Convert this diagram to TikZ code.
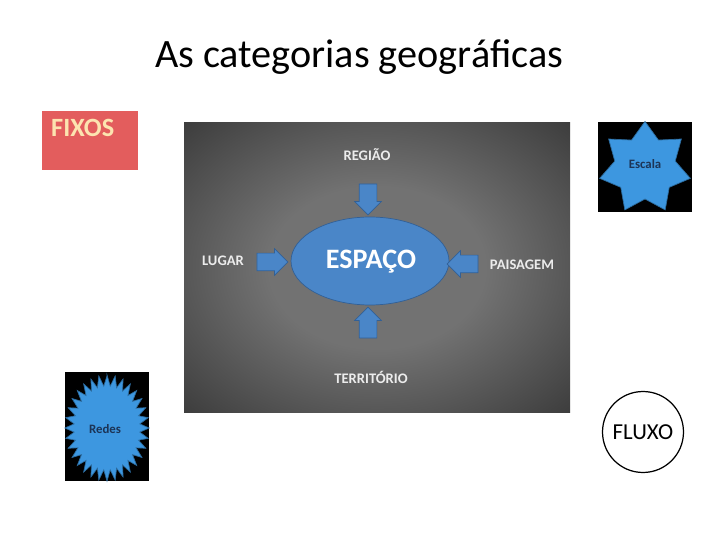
\documentclass[tikz,border=0pt]{standalone}
\usepackage{fontspec}
\setmainfont{Carlito}
\usetikzlibrary{shapes.geometric,shapes.arrows}
\definecolor{espacoblue}{RGB}{74,134,200}
\definecolor{espacoedge}{RGB}{50,96,150}
\definecolor{starblue}{RGB}{61,151,224}
\definecolor{starnavy}{RGB}{28,52,86}
\definecolor{fixosred}{RGB}{227,93,93}
\definecolor{fixostext}{RGB}{252,228,176}
\definecolor{labelgray}{RGB}{236,236,236}
\definecolor{panelmid}{RGB}{114,114,114}
\definecolor{paneledge}{RGB}{30,30,30}
\definecolor{panelcorner}{RGB}{8,8,8}
\pgfdeclareradialshading{panelglow}{\pgfpoint{0bp}{0bp}}{color(0bp)=(panelmid); color(14bp)=(panelmid); color(48bp)=(paneledge); color(70bp)=(panelcorner)}
\tikzset{
	catarrow/.style={single arrow, draw=espacoedge, fill=espacoblue, inner xsep=0pt, inner ysep=0.17cm, minimum height=0.62cm, single arrow head extend=0.09cm, single arrow head indent=0pt},
	catlabel/.style={text=labelgray, font=\bfseries\fontsize{8.3}{10}\selectfont},
	starlabel/.style={text=starnavy, font=\bfseries\fontsize{7.3}{8}\selectfont}
}
\begin{document}
\begin{tikzpicture}[x=0.02cm,y=-0.02cm]
		\useasboundingbox[fill=white] (0,0) rectangle (720,540);
		\node (title) at (359,57) {\fontsize{22.9}{27}\selectfont As categorias geográficas};

		\fill[fixosred] (42,111) rectangle (138,170);
		\node[anchor=west,text=fixostext,font=\bfseries\fontsize{15}{18}\selectfont] (fixos) at (45,128) {FIXOS};

		\shade[shading=panelglow] (184,123) rectangle (570,412);
		\node[ellipse,draw=espacoedge,fill=espacoblue,minimum width=3.16cm,minimum height=1.76cm] (espaco) at (370,261) {};
		\node[text=white,font=\bfseries\fontsize{16}{19}\selectfont] (espacotext) at (371,262) {ESPAÇO};
		\node[catlabel] (regiao) at (367,155) {REGIÃO};
		\node[catlabel] (lugar) at (223,261) {LUGAR};
		\node[catlabel] (paisagem) at (522,265) {PAISAGEM};
		\node[catlabel] (territorio) at (371,377) {TERRITÓRIO};
		\node[catarrow,rotate=270] (downarrow) at (368,195) {};
		\node[catarrow] (rightarrow) at (268,262) {};
		\node[catarrow,rotate=180] (leftarrow) at (467,264) {};
		\node[catarrow,rotate=90] (uparrow) at (368,327) {};

		\fill[black] (598,122) rectangle (692,212);
		\node[star,star points=7,star point ratio=1.5,minimum size=1.86cm,inner sep=0pt,fill=starblue,draw=starblue!70!black] (escala) at (645,168) {};
		\node[starlabel] (escalatext) at (645,164) {Escala};

		\fill[black] (65,372) rectangle (149,481);
		\fill[starblue,draw=starblue!70!black] (107,376) \foreach \i in {0,...,31} { -- ({107+42*sin(\i*11.25)},{428-53*cos(\i*11.25)}) -- ({107+33*sin(\i*11.25+5.625)},{428-42*cos(\i*11.25+5.625)}) } -- cycle;
		\node[starlabel] (redes) at (105,429) {Redes};

		\node[circle,draw,line width=0.7pt,minimum size=1.62cm,font=\fontsize{13}{16}\selectfont] (fluxo) at (643,432) {FLUXO};
	\end{tikzpicture}
\end{document}
